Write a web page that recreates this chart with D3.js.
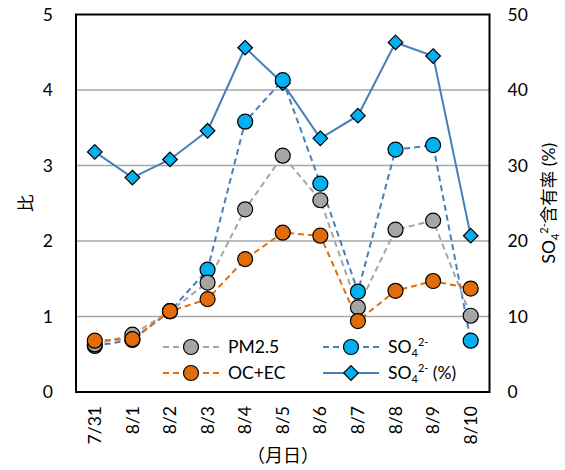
<!DOCTYPE html>
<html><head><meta charset="utf-8">
<script src="https://cdn.jsdelivr.net/npm/d3@7"></script>
<style>
body{margin:0;background:#fff;}
svg text{font-family:Lato,"Noto Sans CJK JP",sans-serif;fill:#000;}
</style></head>
<body><svg id="c" width="565" height="470"></svg>
<script>
const dates = ["7/31","8/1","8/2","8/3","8/4","8/5","8/6","8/7","8/8","8/9","8/10"];
const pm25 = [0.63,0.76,1.07,1.45,2.42,3.13,2.54,1.12,2.15,2.27,1.01];
const ocec = [0.68,0.70,1.07,1.23,1.76,2.11,2.07,0.94,1.34,1.47,1.37];
const so4 = [0.61,0.69,1.07,1.62,3.58,4.13,2.76,1.33,3.21,3.27,0.68];
const so4pct = [31.8,28.4,30.8,34.6,45.6,40.9,33.6,36.6,46.3,44.5,20.7];
const leftTicks = [0,1,2,3,4,5];
const rightTicks = [0,10,20,30,40,50];

const svg = d3.select("#c");
const m = {l:76, r:489.5, t:14.5, b:392};
const x = d3.scaleBand().domain(dates).range([m.l, m.r]);
const y = d3.scaleLinear().domain([0,5]).range([m.b, m.t]);
const y2 = d3.scaleLinear().domain([0,50]).range([m.b, m.t]);
const cx = d => x(d) + x.bandwidth()/2;

// gridlines
svg.append("g").selectAll("line").data(leftTicks.filter(t=>t>0 && t<5)).join("line")
  .attr("x1", m.l).attr("x2", m.r).attr("y1", d=>y(d)).attr("y2", d=>y(d))
  .attr("stroke","#a6a6a6").attr("stroke-width",1.5);

// axes
const fs = 17.5;
const ga = svg.append("g").attr("transform",`translate(${m.l},0)`)
  .call(d3.axisLeft(y).tickValues(leftTicks).tickSize(0).tickPadding(23).tickFormat(d3.format("d")));
ga.select(".domain").remove();
ga.selectAll("text").attr("font-size",fs).attr("font-family","Lato,sans-serif");
const gb = svg.append("g").attr("transform",`translate(${m.r},0)`)
  .call(d3.axisRight(y2).tickValues(rightTicks).tickSize(0).tickPadding(18).tickFormat(d3.format("d")));
gb.select(".domain").remove();
gb.selectAll("text").attr("font-size",fs).attr("font-family","Lato,sans-serif");
const gx = svg.append("g").attr("transform",`translate(0,${m.b})`)
  .call(d3.axisBottom(x).tickSize(0).tickPadding(0));
gx.select(".domain").remove();
gx.selectAll("text").attr("font-size",fs).attr("font-family","Lato,sans-serif")
  .attr("text-anchor","end").attr("dy","0.35em")
  .attr("transform","translate(0,14) rotate(-90)");

// frame
svg.append("rect").attr("x",m.l).attr("y",m.t).attr("width",m.r-m.l).attr("height",m.b-m.t)
  .attr("fill","none").attr("stroke","#000").attr("stroke-width",2);

// titles
svg.append("text").attr("transform",`translate(26,${(m.t+m.b)/2}) rotate(-90)`)
  .attr("text-anchor","middle").attr("dy","0.35em").attr("font-size",fs)
  .attr("font-family","'Noto Sans CJK JP',sans-serif").text("比");
function so4Label(t, withPct, withCJK){
  t.append("tspan").text("SO");
  t.append("tspan").attr("font-size",11).attr("dy",4).text("4");
  t.append("tspan").attr("font-size",11).attr("dy",-11).text("2-");
  const rest = t.append("tspan").attr("dy",7);
  if(withCJK){ rest.attr("font-family","'Noto Sans CJK JP',sans-serif").text("含有率"); t.append("tspan").text(" (%)"); }
  else if(withPct){ rest.text(" (%)"); }
}
const rt = svg.append("text").attr("transform",`translate(549,${(m.t+m.b)/2}) rotate(-90)`)
  .attr("text-anchor","middle").attr("dy","0.35em").attr("font-size",fs);
so4Label(rt, true, true);
svg.append("text").attr("x",283).attr("y",456).attr("text-anchor","middle").attr("dy","0.35em")
  .attr("font-size",18).attr("font-family","'Noto Sans CJK JP',sans-serif").text("（月日）");

// series
const series = [
  {name:"PM2.5", vals:pm25, sc:y, line:"#a5a5a5", fill:"#a5a5a5", dash:"6,4", shape:"circle"},
  {name:"OC+EC", vals:ocec, sc:y, line:"#e36c0a", fill:"#e36c0a", dash:"6,4", shape:"circle"},
  {name:"SO4", vals:so4, sc:y, line:"#4a7ebb", fill:"#00b0f0", dash:"6,4", shape:"circle"},
  {name:"SO4pct", vals:so4pct, sc:y2, line:"#4a7ebb", fill:"#00b0f0", dash:null, shape:"diamond"}
];
const order = [3,2,0,1];
const lineGen = sc => d3.line().x((d,i)=>cx(dates[i])).y(d=>sc(d));
order.forEach(k=>{
  const s = series[k];
  svg.append("path").datum(s.vals).attr("d", lineGen(s.sc)).attr("fill","none")
    .attr("stroke",s.line).attr("stroke-width",2).attr("stroke-dasharray",s.dash);
});
function marker(g, s, px, py){
  if(s.shape==="circle"){
    g.append("circle").attr("cx",px).attr("cy",py).attr("r",7.5)
      .attr("fill",s.fill).attr("stroke","#000").attr("stroke-width",1.2);
  } else {
    const h=7.3;
    g.append("path").attr("d",`M${px},${py-h}L${px+h},${py}L${px},${py+h}L${px-h},${py}Z`)
      .attr("fill",s.fill).attr("stroke","#000").attr("stroke-width",1.2);
  }
}
order.forEach(k=>{
  const s = series[k];
  const g = svg.append("g");
  s.vals.forEach((v,i)=>marker(g,s,cx(dates[i]),s.sc(v)));
});

// legend
const leg = [
  {s:series[0], x:163, y:347},
  {s:series[1], x:163, y:373},
  {s:series[2], x:323, y:347},
  {s:series[3], x:323, y:373}
];
leg.forEach(L=>{
  const g = svg.append("g");
  g.append("line").attr("x1",L.x).attr("x2",L.x+56).attr("y1",L.y).attr("y2",L.y)
    .attr("stroke",L.s.line).attr("stroke-width",2).attr("stroke-dasharray",L.s.dash);
  marker(g,L.s,L.x+28,L.y);
  const t = g.append("text").attr("x",L.x+65).attr("y",L.y).attr("dy","0.35em").attr("font-size",fs);
  if(L.s.name==="PM2.5"||L.s.name==="OC+EC") t.text(L.s.name);
  else so4Label(t, L.s.name==="SO4pct", false);
});
</script></body></html>
